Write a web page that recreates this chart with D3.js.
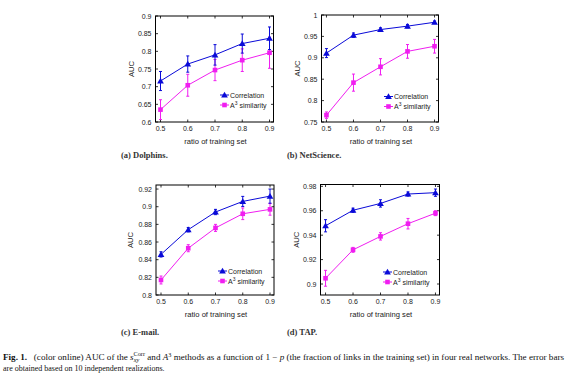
<!DOCTYPE html>
<html><head><meta charset="utf-8">
<script src="https://cdn.jsdelivr.net/npm/d3@7"></script>
<style>body{margin:0;background:#fff}svg{display:block}</style>
</head><body>
<svg id="c" width="567" height="383"></svg>
<script>
const ratios = [0.5, 0.6, 0.7, 0.8, 0.9];
const xTickLabels = ["0.5", "0.6", "0.7", "0.8", "0.9"];
const seriesNames = ["Correlation", "A3 similarity"];

const dolphinsCorr = [0.716, 0.764, 0.790, 0.822, 0.837];
const dolphinsCorrErr = [0.027, 0.023, 0.029, 0.027, 0.032];
const dolphinsA3 = [0.635, 0.704, 0.747, 0.775, 0.796];
const dolphinsA3Err = [0.028, 0.031, 0.030, 0.032, 0.044];
const dolphinsYTicks = [0.6, 0.65, 0.7, 0.75, 0.8, 0.85, 0.9];
const dolphinsYLabels = ["0.6", "0.65", "0.7", "0.75", "0.8", "0.85", "0.9"];

const netCorr = [0.911, 0.953, 0.966, 0.974, 0.983];
const netCorrErr = [0.0105, 0.005, 0.004, 0.004, 0.003];
const netA3 = [0.766, 0.842, 0.879, 0.915, 0.927];
const netA3Err = [0.0075, 0.020, 0.019, 0.016, 0.016];
const netYTicks = [0.75, 0.8, 0.85, 0.9, 0.95, 1.0];
const netYLabels = ["0.75", "0.8", "0.85", "0.9", "0.95", "1"];

const emailCorr = [0.846, 0.874, 0.894, 0.906, 0.912];
const emailCorrErr = [0.003, 0.0025, 0.003, 0.0057, 0.008];
const emailA3 = [0.817, 0.853, 0.876, 0.892, 0.897];
const emailA3Err = [0.0045, 0.004, 0.004, 0.0066, 0.0066];
const emailYTicks = [0.8, 0.82, 0.84, 0.86, 0.88, 0.9, 0.92];
const emailYLabels = ["0.8", "0.82", "0.84", "0.86", "0.88", "0.9", "0.92"];

const tapCorr = [0.9477, 0.9604, 0.966, 0.9737, 0.9748];
const tapCorrErr = [0.005, 0.0017, 0.003, 0.0017, 0.003];
const tapA3 = [0.9047, 0.928, 0.939, 0.9494, 0.958];
const tapA3Err = [0.0065, 0.002, 0.003, 0.0043, 0.002];
const tapYTicks = [0.9, 0.92, 0.94, 0.96, 0.98];
const tapYLabels = ["0.9", "0.92", "0.94", "0.96", "0.98"];

const panelCaptions = ["(a) Dolphins.", "(b) NetScience.", "(c) E-mail.", "(d) TAP."];

const BLUE = "#0a0ad8", MAG = "#f01ef0";
const svg = d3.select("#c");
const SANS = "'Liberation Sans', Arial, sans-serif";
const SERIF = "'Liberation Serif', 'Times New Roman', serif";

const panels = [
  {box:[155.5,16,273.5,122], yd:[0.6,0.9], yt:dolphinsYTicks, yl:dolphinsYLabels,
   c:dolphinsCorr, ce:dolphinsCorrErr, a:dolphinsA3, ae:dolphinsA3Err, leg:[220,95], cap:[121,158], aucX:131},
  {box:[321.5,15,438.5,122], yd:[0.75,1.0], yt:netYTicks, yl:netYLabels,
   c:netCorr, ce:netCorrErr, a:netA3, ae:netA3Err, leg:[384,96.5], cap:[287,158], aucX:297},
  {box:[156,185,274,295], yd:[0.8,0.9246], yt:emailYTicks, yl:emailYLabels,
   c:emailCorr, ce:emailCorrErr, a:emailA3, ae:emailA3Err, leg:[218,271], cap:[121,335], aucX:130},
  {box:[320.5,184.5,439.5,295], yd:[0.891,0.9815], yt:tapYTicks, yl:tapYLabels,
   c:tapCorr, ce:tapCorrErr, a:tapA3, ae:tapA3Err, leg:[383,272], cap:[287,335], aucX:296}
];

function triangle(g, x, y, col){
  const s = 3.2;
  g.append("path").attr("d", `M${x},${y-s}L${x+s*1.05},${y+s*0.8}L${x-s*1.05},${y+s*0.8}Z`).attr("fill", col);
}
function square(g, x, y, col){
  g.append("rect").attr("x", x-2.3).attr("y", y-2.3).attr("width", 4.6).attr("height", 4.6).attr("fill", col);
}

panels.forEach((p, i) => {
  const [x0, y0, x1, y1] = p.box;
  const pad = (x1 - x0) / ((0.9 - 0.5) + 0.0333);
  const x = d3.scaleLinear().domain([0.5 - 5/272.5, 0.9 + 4/272.5]).range([x0, x1]);
  const y = d3.scaleLinear().domain(p.yd).range([y1, y0]);
  const g = svg.append("g");

  // ticks (inward, on all sides)
  const tl = 2.5;
  ratios.forEach(v => {
    g.append("line").attr("x1", x(v)).attr("x2", x(v)).attr("y1", y1).attr("y2", y1 - tl).attr("stroke", "#000").attr("stroke-width", 0.8);
    g.append("line").attr("x1", x(v)).attr("x2", x(v)).attr("y1", y0).attr("y2", y0 + tl).attr("stroke", "#000").attr("stroke-width", 0.8);
  });
  p.yt.forEach(v => {
    g.append("line").attr("x1", x0).attr("x2", x0 + tl).attr("y1", y(v)).attr("y2", y(v)).attr("stroke", "#000").attr("stroke-width", 0.8);
    g.append("line").attr("x1", x1).attr("x2", x1 - tl).attr("y1", y(v)).attr("y2", y(v)).attr("stroke", "#000").attr("stroke-width", 0.8);
  });
  // tick labels
  g.selectAll(null).data(ratios).enter().append("text")
    .attr("x", d => x(d)).attr("y", y1 + 9).attr("text-anchor", "middle")
    .attr("font-family", SANS).attr("font-size", 7).attr("fill", "#222")
    .text((d, k) => xTickLabels[k]);
  g.selectAll(null).data(p.yt).enter().append("text")
    .attr("x", x0 - 4).attr("y", d => y(d) + 2.5).attr("text-anchor", "end")
    .attr("font-family", SANS).attr("font-size", 7).attr("fill", "#222")
    .text((d, k) => p.yl[k]);
  // axis titles
  g.append("text").attr("x", (x0 + x1) / 2 + 1).attr("y", y1 + 21.5).attr("text-anchor", "middle")
    .attr("font-family", SANS).attr("font-size", 7.6).attr("fill", "#222").text("ratio of training set");
  g.append("text").attr("transform", `translate(${p.aucX + 2.5},${(y0 + y1) / 2}) rotate(-90)`)
    .attr("text-anchor", "middle").attr("font-family", SANS).attr("font-size", 7.6).attr("fill", "#222").text("AUC");

  // series
  const line = d3.line().x((d, k) => x(ratios[k])).y(d => y(d));
  [[p.a, p.ae, MAG, square], [p.c, p.ce, BLUE, triangle]].forEach(([vals, errs, col, mk]) => {
    vals.forEach((v, k) => {
      const xx = x(ratios[k]);
      g.append("line").attr("x1", xx).attr("x2", xx).attr("y1", y(v - errs[k])).attr("y2", y(v + errs[k]))
        .attr("stroke", col).attr("stroke-width", 1);
      [v - errs[k], v + errs[k]].forEach(e => g.append("line").attr("x1", xx - 1.5).attr("x2", xx + 1.5)
        .attr("y1", y(e)).attr("y2", y(e)).attr("stroke", col).attr("stroke-width", 1));
    });
    g.append("path").attr("d", line(vals)).attr("fill", "none").attr("stroke", col).attr("stroke-width", 1);
    vals.forEach((v, k) => mk(g, x(ratios[k]), y(v), col));
  });

  // box
  g.append("rect").attr("x", x0).attr("y", y0).attr("width", x1 - x0).attr("height", y1 - y0)
    .attr("fill", "none").attr("stroke", "#000").attr("stroke-width", 1);

  // legend
  const [lx, ly] = p.leg;
  g.append("line").attr("x1", lx).attr("x2", lx + 9).attr("y1", ly).attr("y2", ly).attr("stroke", BLUE).attr("stroke-width", 1);
  triangle(g, lx + 4.5, ly, BLUE);
  g.append("text").attr("x", lx + 10).attr("y", ly + 2.5).attr("font-family", SANS).attr("font-size", 7).attr("fill", "#222").text(seriesNames[0]);
  g.append("line").attr("x1", lx).attr("x2", lx + 9).attr("y1", ly + 10).attr("y2", ly + 10).attr("stroke", MAG).attr("stroke-width", 1);
  square(g, lx + 4.5, ly + 10, MAG);
  const t2 = g.append("text").attr("x", lx + 10).attr("y", ly + 12.5).attr("font-family", SANS).attr("font-size", 7).attr("fill", "#222");
  t2.append("tspan").text("A");
  t2.append("tspan").attr("dy", -3).attr("font-size", 5).text("3");
  t2.append("tspan").attr("dy", 3).text(" similarity");

  // panel caption
  svg.append("text").attr("x", p.cap[0]).attr("y", p.cap[1]).attr("font-family", SERIF)
    .attr("font-size", 8.5).attr("font-weight", "bold").attr("fill", "#333").text(panelCaptions[i]);
});

// figure caption
const cap1 = svg.append("text").attr("x", 3).attr("y", 360).attr("font-family", SERIF).attr("font-size", 8).attr("fill", "#111")
  .attr("textLength", 561).attr("lengthAdjust", "spacingAndGlyphs");
cap1.append("tspan").attr("font-weight", "bold").text("Fig. 1.");
cap1.append("tspan").text("\u2002 (color online) AUC of the ");
cap1.append("tspan").attr("font-style", "italic").text("s");
cap1.append("tspan").attr("font-style", "italic").attr("font-size", 5.5).attr("dy", 2).text("xy");
cap1.append("tspan").attr("font-size", 5.5).attr("dx", -5).attr("dy", -6).text("Corr");
cap1.append("tspan").attr("dy", 4).text(" and ");
cap1.append("tspan").attr("font-style", "italic").text("A");
cap1.append("tspan").attr("font-size", 5.5).attr("dy", -3).text("3");
cap1.append("tspan").attr("dy", 3).text(" methods as a function of 1 \u2212 ");
cap1.append("tspan").attr("font-style", "italic").text("p");
cap1.append("tspan").text(" (the fraction of links in the training set) in four real networks. The error bars");
svg.append("text").attr("x", 3).attr("y", 370.5).attr("font-family", SERIF).attr("font-size", 8).attr("fill", "#111")
  .text("are obtained based on 10 independent realizations.");
</script>
</body></html>
